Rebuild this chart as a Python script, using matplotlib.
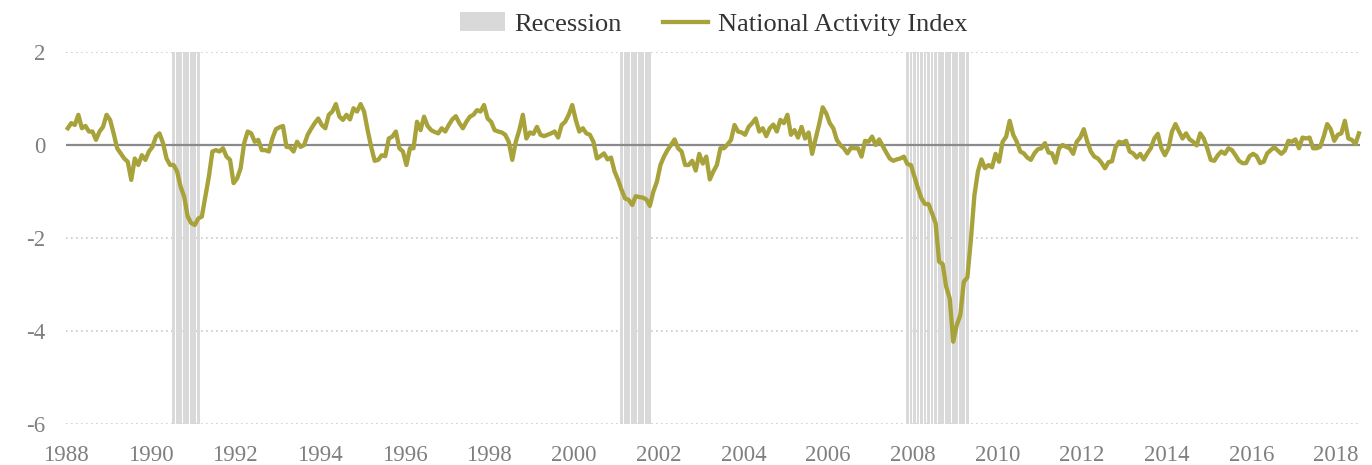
import matplotlib
matplotlib.use('Agg')
import matplotlib.pyplot as plt
from matplotlib.patches import Patch
from matplotlib.lines import Line2D
import numpy as np

# monthly index values, Jan 1988 .. Jul 2018
nai = [
    0.36, 0.47, 0.43, 0.65, 0.36, 0.41, 0.29, 0.29, 0.11, 0.29, 0.39, 0.65,        # 1988
    0.54, 0.25, -0.07, -0.18, -0.29, -0.36, -0.75, -0.29, -0.43, -0.22, -0.32, -0.14,  # 1989
    -0.04, 0.18, 0.25, 0.04, -0.29, -0.43, -0.43, -0.57, -0.90, -1.11, -1.54, -1.68,  # 1990
    -1.72, -1.58, -1.54, -1.11, -0.68, -0.14, -0.11, -0.14, -0.07, -0.25, -0.32, -0.82,  # 1991
    -0.72, -0.50, 0.04, 0.29, 0.25, 0.07, 0.11, -0.11, -0.11, -0.14, 0.14, 0.34,   # 1992
    0.38, 0.41, -0.04, -0.05, -0.14, 0.07, -0.04, 0.00, 0.22, 0.35, 0.47, 0.57,    # 1993
    0.43, 0.36, 0.65, 0.72, 0.88, 0.61, 0.54, 0.65, 0.55, 0.79, 0.72, 0.88,        # 1994
    0.72, 0.32, -0.04, -0.34, -0.32, -0.22, -0.24, 0.14, 0.18, 0.29, -0.07, -0.14,  # 1995
    -0.43, -0.07, -0.07, 0.50, 0.32, 0.61, 0.41, 0.32, 0.28, 0.25, 0.36, 0.29,     # 1996
    0.43, 0.55, 0.62, 0.47, 0.36, 0.50, 0.61, 0.65, 0.75, 0.72, 0.86, 0.57,        # 1997
    0.50, 0.32, 0.29, 0.27, 0.22, 0.07, -0.32, 0.07, 0.32, 0.65, 0.14, 0.27,       # 1998
    0.24, 0.39, 0.22, 0.19, 0.22, 0.25, 0.29, 0.16, 0.43, 0.50, 0.65, 0.86,        # 1999
    0.54, 0.29, 0.36, 0.25, 0.22, 0.07, -0.29, -0.24, -0.18, -0.31, -0.27, -0.57,  # 2000
    -0.75, -0.97, -1.15, -1.18, -1.29, -1.10, -1.12, -1.13, -1.17, -1.31, -1.00, -0.79,  # 2001
    -0.43, -0.25, -0.11, 0.00, 0.12, -0.07, -0.14, -0.43, -0.43, -0.34, -0.55, -0.19,  # 2002
    -0.40, -0.25, -0.74, -0.57, -0.43, -0.07, -0.07, 0.01, 0.11, 0.43, 0.29, 0.27,  # 2003
    0.22, 0.39, 0.47, 0.57, 0.29, 0.36, 0.19, 0.36, 0.44, 0.29, 0.54, 0.47,        # 2004
    0.65, 0.22, 0.32, 0.16, 0.39, 0.14, 0.27, -0.19, 0.14, 0.45, 0.81, 0.68,       # 2005
    0.47, 0.36, 0.11, 0.00, -0.07, -0.18, -0.06, -0.07, -0.07, -0.25, 0.09, 0.07,  # 2006
    0.18, 0.00, 0.12, -0.02, -0.16, -0.29, -0.34, -0.31, -0.29, -0.25, -0.41, -0.43,  # 2007
    -0.68, -0.93, -1.15, -1.27, -1.27, -1.47, -1.68, -2.51, -2.56, -3.05, -3.30, -4.23,  # 2008
    -3.87, -3.66, -2.94, -2.85, -2.04, -1.08, -0.57, -0.31, -0.50, -0.43, -0.48, -0.19,  # 2009
    -0.36, 0.07, 0.18, 0.52, 0.22, 0.07, -0.14, -0.18, -0.27, -0.32, -0.18, -0.09,  # 2010
    -0.07, 0.04, -0.16, -0.18, -0.38, -0.07, 0.00, -0.04, -0.07, -0.19, 0.07, 0.16,  # 2011
    0.34, 0.07, -0.14, -0.25, -0.29, -0.38, -0.50, -0.37, -0.35, -0.05, 0.07, 0.05,  # 2012
    0.09, -0.14, -0.18, -0.27, -0.19, -0.31, -0.18, -0.07, 0.14, 0.24, -0.07, -0.22,  # 2013
    -0.07, 0.29, 0.45, 0.29, 0.14, 0.25, 0.12, 0.07, -0.01, 0.25, 0.14, -0.07,     # 2014
    -0.32, -0.34, -0.22, -0.14, -0.19, -0.07, -0.11, -0.22, -0.34, -0.39, -0.39, -0.24,  # 2015
    -0.19, -0.24, -0.39, -0.36, -0.18, -0.11, -0.05, -0.12, -0.19, -0.12, 0.09, 0.07,  # 2016
    0.12, -0.07, 0.16, 0.14, 0.16, -0.07, -0.07, -0.04, 0.18, 0.45, 0.34, 0.09,    # 2017
    0.22, 0.25, 0.52, 0.14, 0.11, 0.02, 0.25,                                      # 2018
]

# recession months as (first, last) month index from Jan 1988
recessions = [(31, 38), (158, 166), (239, 256)]

years = list(range(1988, 2019, 2))
yticks = [2, 0, -2, -4, -6]

olive = '#a8a23b'
grey_txt = '#7f7f7f'

plt.rcParams['font.family'] = ['Liberation Serif', 'DejaVu Serif']

fig = plt.figure(figsize=(13.72, 4.65), dpi=100)
ax = fig.add_axes([66 / 1372, 1 - 424 / 465, (1360 - 66) / 1372, (424 - 52) / 465])

months = np.arange(len(nai))

# recession stripes, one bar per month
for start, end in recessions:
    r = np.arange(start, end + 1)
    ax.bar(r - 0.5, 8, bottom=-6, width=0.78, color='#d9d9d9', linewidth=0, zorder=1)

for y in [2, -2, -4, -6]:
    ax.axhline(y, color='#c9c9c9', linewidth=1.2, linestyle=(0, (1, 2)), zorder=0)
ax.axhline(0, color='#8a8a8a', linewidth=1.6, zorder=2)

ax.plot(months + 0.5, nai, color=olive, linewidth=3.1, solid_joinstyle='round',
        zorder=3, clip_on=False)

ax.set_xlim(0, 366.8)
ax.set_ylim(-6, 2)
ax.set_xticks([(y - 1988) * 12 for y in years])
ax.set_xticklabels([str(y) for y in years])
ax.set_yticks(yticks)
ax.set_yticklabels([str(v) for v in yticks])
ax.tick_params(axis='both', length=0, labelsize=16.5, labelcolor=grey_txt)
ax.tick_params(axis='x', pad=15)
ax.tick_params(axis='y', pad=15)
for s in ax.spines.values():
    s.set_visible(False)

handles = [Patch(facecolor='#d9d9d9', edgecolor='none', label='Recession'),
           Line2D([], [], color=olive, linewidth=3.1, label='National Activity Index')]
fig.legend(handles=handles, loc='upper center', bbox_to_anchor=(0.52, 1.025), ncol=2,
           frameon=False, fontsize=19, handlelength=1.7, handleheight=0.75,
           columnspacing=1.6, handletextpad=0.35, labelcolor='#333333')

fig.savefig('out.png', dpi=100)
